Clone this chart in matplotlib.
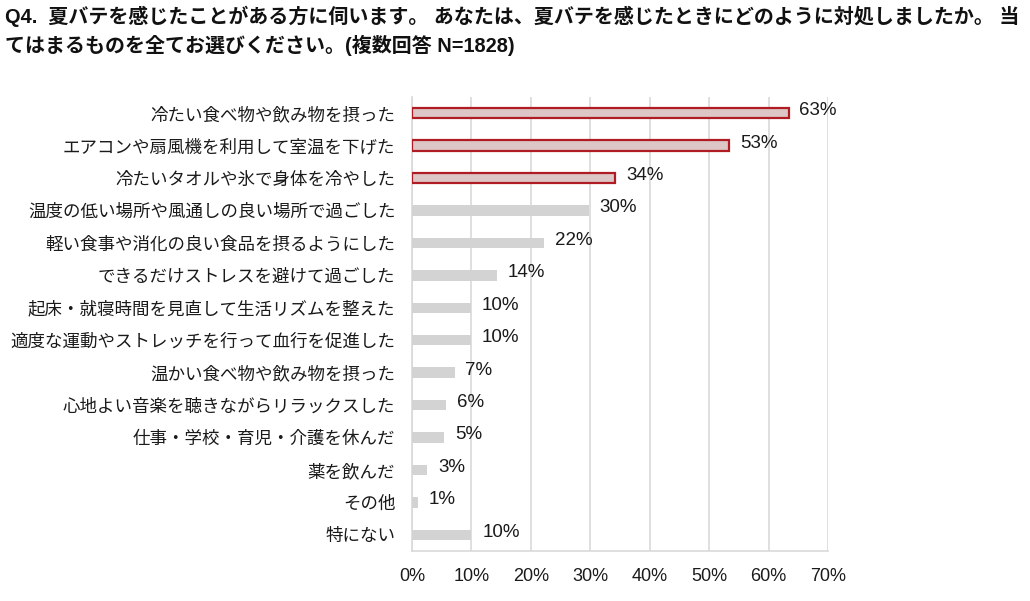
import matplotlib.pyplot as plt
import matplotlib.ticker as mticker

plt.rcParams['font.family'] = ['Liberation Sans', 'Noto Sans CJK JP']

categories = [
    "冷たい食べ物や飲み物を摂った",
    "エアコンや扇風機を利用して室温を下げた",
    "冷たいタオルや氷で身体を冷やした",
    "温度の低い場所や風通しの良い場所で過ごした",
    "軽い食事や消化の良い食品を摂るようにした",
    "できるだけストレスを避けて過ごした",
    "起床・就寝時間を見直して生活リズムを整えた",
    "適度な運動やストレッチを行って血行を促進した",
    "温かい食べ物や飲み物を摂った",
    "心地よい音楽を聴きながらリラックスした",
    "仕事・学校・育児・介護を休んだ",
    "薬を飲んだ",
    "その他",
    "特にない",
]
values = [63.4, 53.4, 34.2, 29.7, 22.2, 14.3, 9.9, 9.9, 7.2, 5.7, 5.4, 2.6, 1.0, 10.0]
labels = ["63%", "53%", "34%", "30%", "22%", "14%", "10%", "10%", "7%", "6%", "5%", "3%", "1%", "10%"]
highlight = 3  # top three bars are outlined in red

title = ("Q4.  夏バテを感じたことがある方に伺います。 あなたは、夏バテを感じたときにどのように対処しましたか。 当\n"
         "てはまるものを全てお選びください。(複数回答 N=1828)")

fig = plt.figure(figsize=(10.3, 6.01), dpi=100)
ax = fig.add_axes([412 / 1030, 50 / 601, 416 / 1030, 454 / 601])

y = list(range(len(categories)))
for i, (v, lab) in enumerate(zip(values, labels)):
    if i < highlight:
        ax.barh(i, v, height=0.32, color="#dcc6c6", edgecolor="#b01c24", linewidth=1.6, zorder=3)
    else:
        ax.barh(i, v, height=0.32, color="#d3d3d3", edgecolor="none", zorder=3)
    ax.text(v + 1.8, i - 0.08, lab, va="center", ha="left", fontsize=13.5, color="#1a1a1a")

ax.set_xlim(0, 70)
ax.set_ylim(len(categories) - 0.5, -0.5)
ax.set_yticks(y)
ax.set_yticklabels(categories, fontsize=12.6, color="#1a1a1a")
ax.xaxis.set_major_locator(mticker.MultipleLocator(10))
ax.xaxis.set_major_formatter(mticker.FuncFormatter(lambda x, _: f"{x:.0f}%"))
ax.tick_params(axis="x", labelsize=13, length=0, pad=12, colors="#1a1a1a")
ax.tick_params(axis="y", length=0, pad=12)
ax.grid(axis="x", color="#d9d9d9", linewidth=1.2, zorder=0)
for side in ["top", "right"]:
    ax.spines[side].set_visible(False)
for side in ["left", "bottom"]:
    ax.spines[side].set_color("#d9d9d9")
    ax.spines[side].set_linewidth(1.2)

fig.text(0.005, 0.99, title, ha="left", va="top", fontsize=14.4, fontweight="bold",
         linespacing=1.42, color="#111111")

fig.savefig("out.png", dpi=100)
